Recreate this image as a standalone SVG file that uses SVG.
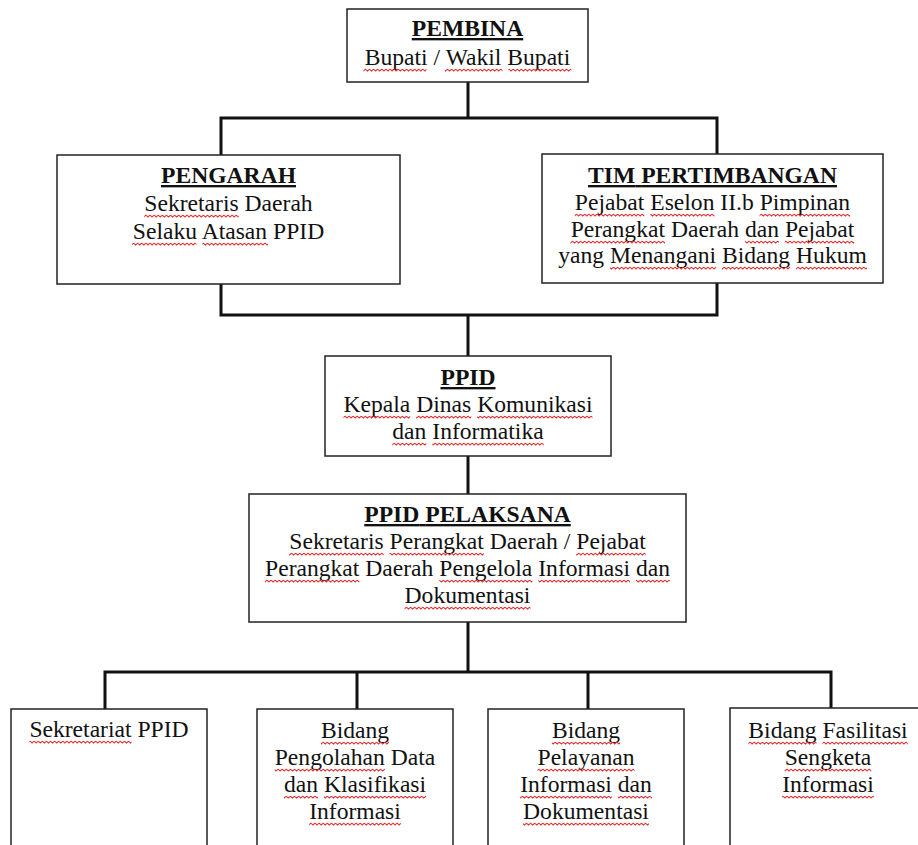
<svg xmlns="http://www.w3.org/2000/svg" width="918" height="845" viewBox="0 0 918 845">
<style>
.box{fill:#fff;stroke:#222;stroke-width:1.5}
.conn{fill:none;stroke:#111;stroke-width:3;stroke-linejoin:miter;stroke-linecap:square}
text{font-family:"Liberation Serif","Times New Roman",serif;font-size:23.6px;fill:#111;text-anchor:middle}
.h{font-weight:bold;text-decoration:underline}
.sq{fill:url(#wavy)}
</style>
<defs>
<pattern id="wavy" width="4" height="4" patternUnits="userSpaceOnUse">
<path d="M0,1 L2,3 L4,1" fill="none" stroke="#e02424" stroke-width="1"/>
</pattern>
</defs>
<rect width="918" height="845" fill="#fff"/>
<g id="connectors">
<path class="conn" d="M468,82 V118 M221,118 H717 M221,118 V155 M717,118 V154"/>
<path class="conn" d="M221,284 V315 H717 V283 M468,315 V356"/>
<path class="conn" d="M468,456 V494"/>
<path class="conn" d="M468,622 V672 M105,672 H831 M105,672 V709 M357,672 V709 M588,672 V709 M831,672 V709"/>
</g>
<g id="pembina">
<rect class="box" x="347" y="9" width="241" height="73"/>
<text x="467.5" y="36" class="h">PEMBINA</text>
<text x="467.5" y="65"><tspan>Bupati</tspan> <tspan>/</tspan> <tspan>Wakil</tspan> <tspan>Bupati</tspan></text>
<g transform="translate(467.5,68) scale(1.026,1) translate(-467.5,0)" class="sq"><rect x="366.2" width="61.3" height="4"/><rect x="445.4" width="56.2" height="4"/><rect x="507.4" width="61.3" height="4"/></g>
</g>
<g id="pengarah">
<rect class="box" x="57" y="155" width="343" height="129"/>
<text x="228.5" y="183" class="h">PENGARAH</text>
<text x="228.5" y="211"><tspan>Sekretaris</tspan> <tspan>Daerah</tspan></text>
<text x="228.5" y="239"><tspan>Selaku</tspan> <tspan>Atasan</tspan> <tspan>PPID</tspan></text>
<g transform="translate(228.5,214) scale(1.026,1) translate(-228.5,0)" class="sq"><rect x="146.4" width="92" height="4"/></g>
<g transform="translate(228.5,242) scale(1.026,1) translate(-228.5,0)" class="sq"><rect x="134.6" width="62.6" height="4"/><rect x="203" width="63.9" height="4"/></g>
</g>
<g id="tim-pertimbangan">
<rect class="box" x="542" y="154" width="341" height="129"/>
<text x="712.5" y="183" class="h"><tspan>TIM</tspan> <tspan>PERTIMBANGAN</tspan></text>
<text x="712.5" y="210"><tspan>Pejabat</tspan> <tspan>Eselon</tspan> <tspan>II.b</tspan> <tspan>Pimpinan</tspan></text>
<text x="712.5" y="237"><tspan>Perangkat</tspan> <tspan>Daerah</tspan> <tspan>dan</tspan> <tspan>Pejabat</tspan></text>
<text x="712.5" y="263"><tspan>yang</tspan> <tspan>Menangani</tspan> <tspan>Bidang</tspan> <tspan>Hukum</tspan></text>
<g transform="translate(712.5,213) scale(1.026,1) translate(-712.5,0)" class="sq"><rect x="578.3" width="67.7" height="4"/><rect x="651.8" width="62.6" height="4"/><rect x="758.4" width="88.2" height="4"/></g>
<g transform="translate(712.5,240) scale(1.026,1) translate(-712.5,0)" class="sq"><rect x="574.2" width="92" height="4"/><rect x="744.1" width="33.2" height="4"/><rect x="783" width="67.7" height="4"/></g>
<g transform="translate(712.5,266) scale(1.026,1) translate(-712.5,0)" class="sq"><rect x="612.6" width="103.5" height="4"/><rect x="721.8" width="66.4" height="4"/><rect x="794" width="69" height="4"/></g>
</g>
<g id="ppid">
<rect class="box" x="325" y="356" width="286" height="100"/>
<text x="468" y="385" class="h">PPID</text>
<text x="468" y="412"><tspan>Kepala</tspan> <tspan>Dinas</tspan> <tspan>Komunikasi</tspan></text>
<text x="468" y="439"><tspan>dan</tspan> <tspan>Informatika</tspan></text>
<g transform="translate(468,415) scale(1.026,1) translate(-468,0)" class="sq"><rect x="346.6" width="65.1" height="4"/><rect x="417.5" width="53.7" height="4"/><rect x="476.9" width="112.4" height="4"/></g>
<g transform="translate(468,442) scale(1.026,1) translate(-468,0)" class="sq"><rect x="394.2" width="33.2" height="4"/><rect x="433.2" width="108.6" height="4"/></g>
</g>
<g id="ppid-pelaksana">
<rect class="box" x="249" y="494" width="437" height="128"/>
<text x="467.5" y="522" class="h"><tspan>PPID</tspan> <tspan>PELAKSANA</tspan></text>
<text x="467.5" y="549"><tspan>Sekretaris</tspan> <tspan>Perangkat</tspan> <tspan>Daerah</tspan> <tspan>/</tspan> <tspan>Pejabat</tspan></text>
<text x="467.5" y="576"><tspan>Perangkat</tspan> <tspan>Daerah</tspan> <tspan>Pengelola</tspan> <tspan>Informasi</tspan> <tspan>dan</tspan></text>
<text x="467.5" y="603">Dokumentasi</text>
<g transform="translate(467.5,552) scale(1.026,1) translate(-467.5,0)" class="sq"><rect x="293.8" width="92" height="4"/><rect x="391.5" width="92" height="4"/><rect x="573.5" width="67.7" height="4"/></g>
<g transform="translate(467.5,579) scale(1.026,1) translate(-467.5,0)" class="sq"><rect x="270.1" width="92" height="4"/><rect x="440" width="90.7" height="4"/><rect x="536.4" width="89.4" height="4"/><rect x="631.6" width="33.2" height="4"/></g>
<g transform="translate(467.5,606) scale(1.026,1) translate(-467.5,0)" class="sq"><rect x="406.2" width="122.7" height="4"/></g>
</g>
<g id="sekretariat">
<rect class="box" x="11" y="709" width="196" height="150"/>
<text x="109" y="737"><tspan>Sekretariat</tspan> <tspan>PPID</tspan></text>
<g transform="translate(109,740) scale(1.026,1) translate(-109,0)" class="sq"><rect x="31.4" width="99.6" height="4"/></g>
</g>
<g id="bidang-pengolahan">
<rect class="box" x="257" y="709" width="196" height="150"/>
<text x="355" y="738">Bidang</text>
<text x="355" y="765"><tspan>Pengolahan</tspan> <tspan>Data</tspan></text>
<text x="355" y="792"><tspan>dan</tspan> <tspan>Klasifikasi</tspan></text>
<text x="355" y="819">Informasi</text>
<g transform="translate(355,741) scale(1.026,1) translate(-355,0)" class="sq"><rect x="321.8" width="66.4" height="4"/></g>
<g transform="translate(355,768) scale(1.026,1) translate(-355,0)" class="sq"><rect x="276.8" width="107.3" height="4"/></g>
<g transform="translate(355,795) scale(1.026,1) translate(-355,0)" class="sq"><rect x="285.7" width="33.2" height="4"/><rect x="324.7" width="99.7" height="4"/></g>
<g transform="translate(355,822) scale(1.026,1) translate(-355,0)" class="sq"><rect x="310.3" width="89.4" height="4"/></g>
</g>
<g id="bidang-pelayanan">
<rect class="box" x="488" y="709" width="196" height="150"/>
<text x="586" y="738">Bidang</text>
<text x="586" y="765">Pelayanan</text>
<text x="586" y="792"><tspan>Informasi</tspan> <tspan>dan</tspan></text>
<text x="586" y="819">Dokumentasi</text>
<g transform="translate(586,741) scale(1.026,1) translate(-586,0)" class="sq"><rect x="552.8" width="66.4" height="4"/></g>
<g transform="translate(586,768) scale(1.026,1) translate(-586,0)" class="sq"><rect x="538.7" width="94.5" height="4"/></g>
<g transform="translate(586,795) scale(1.026,1) translate(-586,0)" class="sq"><rect x="521.8" width="89.4" height="4"/><rect x="617" width="33.2" height="4"/></g>
<g transform="translate(586,822) scale(1.026,1) translate(-586,0)" class="sq"><rect x="524.7" width="122.7" height="4"/></g>
</g>
<g id="bidang-fasilitasi">
<rect class="box" x="730" y="708" width="196" height="150"/>
<text x="828" y="738"><tspan>Bidang</tspan> <tspan>Fasilitasi</tspan></text>
<text x="828" y="765">Sengketa</text>
<text x="828" y="792">Informasi</text>
<g transform="translate(828,741) scale(1.026,1) translate(-828,0)" class="sq"><rect x="750.4" width="66.4" height="4"/><rect x="822.6" width="83.1" height="4"/></g>
<g transform="translate(828,768) scale(1.026,1) translate(-828,0)" class="sq"><rect x="785.8" width="84.3" height="4"/></g>
<g transform="translate(828,795) scale(1.026,1) translate(-828,0)" class="sq"><rect x="783.3" width="89.4" height="4"/></g>
</g>
</svg>
